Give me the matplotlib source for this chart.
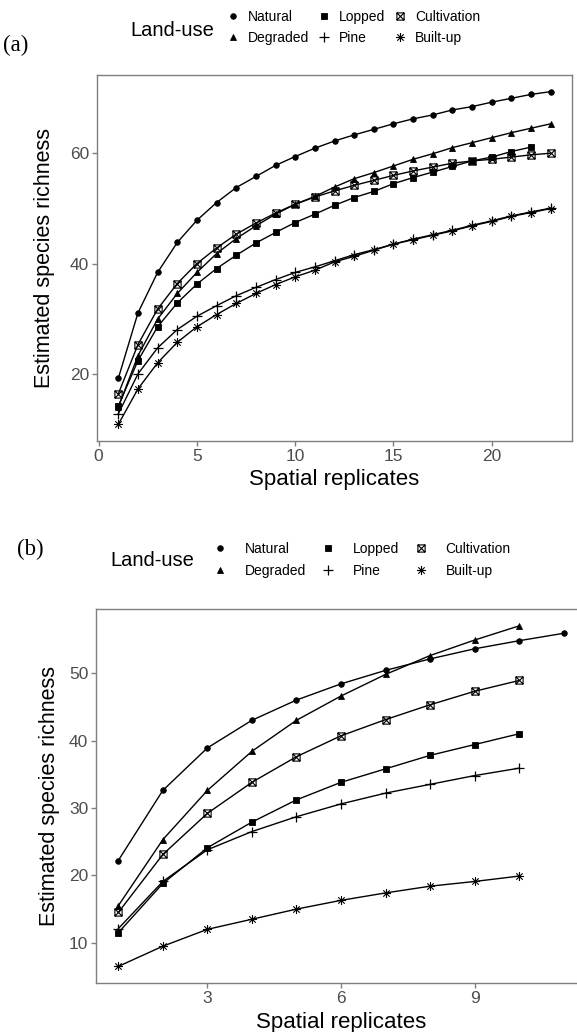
import matplotlib
matplotlib.use('Agg')
import matplotlib.pyplot as plt
from matplotlib.path import Path
from matplotlib.lines import Line2D

plt.rcParams['font.family'] = ['Liberation Sans', 'DejaVu Sans']

land_use = ['Natural', 'Degraded', 'Lopped', 'Pine', 'Cultivation', 'Built-up']

# ---------------- panel (a) data ----------------
a_natural = [19.3, 31.1, 38.4, 43.8, 47.8, 51.0, 53.7, 55.7, 57.7, 59.3, 60.8, 62.1,
             63.2, 64.2, 65.2, 66.1, 66.8, 67.7, 68.3, 69.1, 69.8, 70.5, 71.0]
a_degraded = [14.1, 23.4, 30.0, 34.6, 38.4, 41.8, 44.5, 46.8, 48.9, 50.7, 52.1, 53.8,
              55.3, 56.4, 57.6, 58.8, 59.8, 60.9, 61.8, 62.7, 63.6, 64.4, 65.2]
a_lopped = [14.3, 22.5, 28.6, 32.9, 36.3, 39.1, 41.5, 43.7, 45.6, 47.4, 48.9, 50.5,
            51.9, 53.0, 54.4, 55.5, 56.5, 57.5, 58.5, 59.2, 60.2, 61.0]
a_pine = [12.9, 20.1, 24.8, 28.1, 30.5, 32.4, 34.2, 35.7, 37.1, 38.4, 39.4, 40.5,
          41.6, 42.5, 43.5, 44.4, 45.2, 46.0, 46.9, 47.7, 48.6, 49.3, 50.0]
a_cultivation = [16.5, 25.4, 31.8, 36.4, 40.0, 42.8, 45.3, 47.3, 49.1, 50.7, 52.0, 53.1,
                 54.1, 55.0, 55.9, 56.7, 57.4, 58.1, 58.5, 58.8, 59.2, 59.6, 59.9]
a_builtup = [11.0, 17.4, 22.1, 25.8, 28.6, 30.8, 32.8, 34.6, 36.2, 37.6, 38.8, 40.3,
             41.3, 42.4, 43.5, 44.3, 45.1, 45.9, 46.8, 47.6, 48.5, 49.2, 49.9]

# ---------------- panel (b) data ----------------
b_natural = [22.2, 32.6, 38.9, 43.0, 46.0, 48.4, 50.4, 52.1, 53.6, 54.8, 55.9]
b_degraded = [15.5, 25.3, 32.6, 38.4, 43.0, 46.6, 49.8, 52.6, 54.9, 57.0]
b_lopped = [11.5, 18.8, 24.1, 27.9, 31.2, 33.8, 35.8, 37.8, 39.4, 41.0]
b_pine = [12.1, 19.1, 23.8, 26.5, 28.7, 30.6, 32.2, 33.5, 34.8, 35.9]
b_cultivation = [14.5, 23.1, 29.2, 33.8, 37.6, 40.7, 43.1, 45.3, 47.3, 48.9]
b_builtup = [6.5, 9.5, 12.0, 13.5, 15.0, 16.3, 17.4, 18.4, 19.1, 19.9]

a_xticks = [0, 5, 10, 15, 20]
a_yticks = [20, 40, 60]
b_xticks = [3, 6, 9]
b_yticks = [10, 20, 30, 40, 50]

# ---------------- marker shapes ----------------
sq_cross = Path([(-1, -1), (1, -1), (1, 1), (-1, 1), (-1, -1),
                 (-1, -1), (1, 1), (-1, 1), (1, -1)],
                [Path.MOVETO, Path.LINETO, Path.LINETO, Path.LINETO, Path.CLOSEPOLY,
                 Path.MOVETO, Path.LINETO, Path.MOVETO, Path.LINETO])
r = 0.7071
asterisk = Path([(-1, 0), (1, 0), (0, -1), (0, 1), (-r, -r), (r, r), (-r, r), (r, -r)],
                [Path.MOVETO, Path.LINETO] * 4)

styles = {
    'Natural': dict(marker='o', ms=4.0, mfc='black', mew=0.6),
    'Degraded': dict(marker='^', ms=4.6, mfc='black', mew=0.6),
    'Lopped': dict(marker='s', ms=3.8, mfc='black', mew=0.6),
    'Pine': dict(marker='+', ms=7.0, mfc='none', mew=0.9),
    'Cultivation': dict(marker=sq_cross, ms=5.2, mfc='none', mew=0.8),
    'Built-up': dict(marker=asterisk, ms=6.5, mfc='none', mew=0.8),
}

W, H = 577, 1032
fig = plt.figure(figsize=(W / 100, H / 100), dpi=100)

GREY = '#4D4D4D'
SPINE = '#7F7F7F'


def px_axes(left, right, top, bottom):
    return fig.add_axes([left / W, 1 - bottom / H, (right - left) / W, (bottom - top) / H])


def style_axes(ax):
    for s in ax.spines.values():
        s.set_color(SPINE)
        s.set_linewidth(1.0)
    ax.tick_params(axis='both', colors=SPINE, labelcolor=GREY, labelsize=12.5,
                   length=3.5, width=1.0, pad=2)


def draw(ax, series):
    handles = {}
    for name, ys in series:
        xs = list(range(1, len(ys) + 1))
        ln, = ax.plot(xs, ys, color='black', lw=1.0, mec='black', **styles[name])
        handles[name] = ln
    return handles


# ---------------- panel (a) ----------------
axa = px_axes(96.7, 572.3, 75, 441)
ha = draw(axa, [('Natural', a_natural), ('Degraded', a_degraded), ('Lopped', a_lopped),
                ('Pine', a_pine), ('Cultivation', a_cultivation), ('Built-up', a_builtup)])
axa.set_xlim(-0.1, 24.1)
axa.set_ylim(8, 74)
axa.set_xticks(a_xticks)
axa.set_yticks(a_yticks)
style_axes(axa)
axa.set_xlabel('Spatial replicates', fontsize=16)
axa.set_ylabel('Estimated species richness', fontsize=15.5)
axa.xaxis.set_label_coords(0.5, -0.076)
axa.yaxis.set_label_coords(-0.088, 0.5)

# ---------------- panel (b) ----------------
axb = px_axes(96, 586, 609, 983.3)
hb = draw(axb, [('Natural', b_natural), ('Degraded', b_degraded), ('Lopped', b_lopped),
                ('Pine', b_pine), ('Cultivation', b_cultivation), ('Built-up', b_builtup)])
axb.set_xlim(0.5, 11.5)
axb.set_ylim(4.0, 59.5)
axb.set_xticks(b_xticks)
axb.set_yticks(b_yticks)
style_axes(axb)
axb.set_xlabel('Spatial replicates', fontsize=16)
axb.set_ylabel('Estimated species richness', fontsize=15.5)
axb.xaxis.set_label_coords(0.5, -0.078)
axb.yaxis.set_label_coords(-0.0735, 0.5)

# ---------------- legends ----------------
order = ['Natural', 'Degraded', 'Lopped', 'Pine', 'Cultivation', 'Built-up']


def legend(handles, x, y, handletextpad, columnspacing):
    hs = [Line2D([], [], color='black', lw=0, mec='black', **styles[n]) for n in order]
    fig.legend(hs, order, loc='center left', bbox_to_anchor=(x / W, 1 - y / H),
               ncol=3, frameon=False, fontsize=10, handlelength=1.0,
               handletextpad=handletextpad, columnspacing=columnspacing,
               labelspacing=0.55, borderpad=0, borderaxespad=0)


legend(ha, 226, 27.5, 0.55, 0.6)
legend(hb, 213, 560, 1.3, 1.05)

fig.text(130 / W, 1 - 30 / H, 'Land-use', fontsize=14.5, ha='left', va='center')
fig.text(110 / W, 1 - 561 / H, 'Land-use', fontsize=14.5, ha='left', va='center')

fig.text(3 / W, 1 - 45 / H, '(a)', fontsize=16.5, ha='left', va='center',
         family=['Liberation Serif', 'DejaVu Serif'])
fig.text(17 / W, 1 - 549 / H, '(b)', fontsize=16.5, ha='left', va='center',
         family=['Liberation Serif', 'DejaVu Serif'])

fig.savefig('out.png', dpi=100)
